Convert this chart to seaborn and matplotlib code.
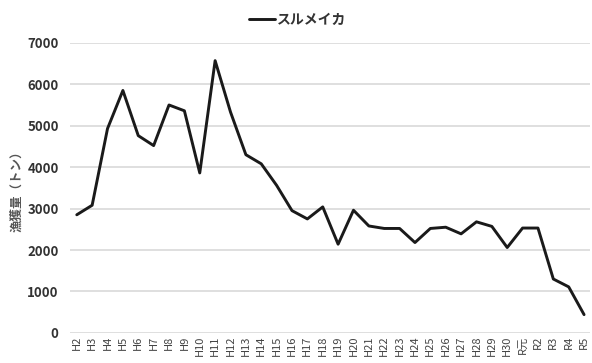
# スルメイカ 漁獲量の推移
import pandas as pd
import matplotlib
matplotlib.use("Agg")
import matplotlib.pyplot as plt
import seaborn as sns

# ---- data ----
years = ["H2", "H3", "H4", "H5", "H6", "H7", "H8", "H9", "H10", "H11",
         "H12", "H13", "H14", "H15", "H16", "H17", "H18", "H19", "H20", "H21",
         "H22", "H23", "H24", "H25", "H26", "H27", "H28", "H29", "H30", "R元",
         "R2", "R3", "R4", "R5"]
catch = [2850, 3080, 4930, 5850, 4760, 4520, 5500, 5360, 3860, 6570,
         5330, 4300, 4080, 3560, 2950, 2750, 3040, 2140, 2960, 2580,
         2520, 2520, 2180, 2520, 2550, 2390, 2680, 2570, 2060, 2530,
         2530, 1300, 1110, 440]

df = pd.DataFrame({"year": years, "catch": catch})

# ---- style ----
sns.set_theme(style="white")
plt.rcParams["font.family"] = ["Noto Sans CJK JP", "DejaVu Sans"]

fig = plt.figure(figsize=(5.92, 3.63), dpi=100)
ax = fig.add_axes([0.118, 0.083, 0.879, 0.799])

sns.lineplot(data=df, x="year", y="catch", color="#1a1a1a", linewidth=2.1,
             label="スルメイカ", ax=ax, sort=False)

ax.set_ylim(0, 7000)
ax.set_xlim(-0.45, len(years) - 0.6)
ax.set_yticks(range(0, 7001, 1000))
ax.yaxis.grid(True, color="#d9d9d9", linewidth=1.2)
ax.set_axisbelow(True)
for s in ax.spines.values():
    s.set_visible(False)

ax.tick_params(axis="x", labelsize=8, rotation=90, pad=2, length=0, colors="#444444")
ax.tick_params(axis="y", labelsize=9.5, pad=8, length=0, colors="#333333")
for t in ax.get_yticklabels():
    t.set_fontweight("bold")

ax.set_xlabel("")
ax.set_ylabel("漁獲量（トン）", fontsize=9, color="#555555", fontweight="bold", labelpad=3)

leg = ax.legend(loc="lower center", bbox_to_anchor=(0.437, 1.035), frameon=False,
                fontsize=10, handlelength=1.9, handletextpad=0.1, borderaxespad=0)
for t in leg.get_texts():
    t.set_fontweight("bold")
    t.set_color("#333333")

fig.savefig("out.png", dpi=100)
